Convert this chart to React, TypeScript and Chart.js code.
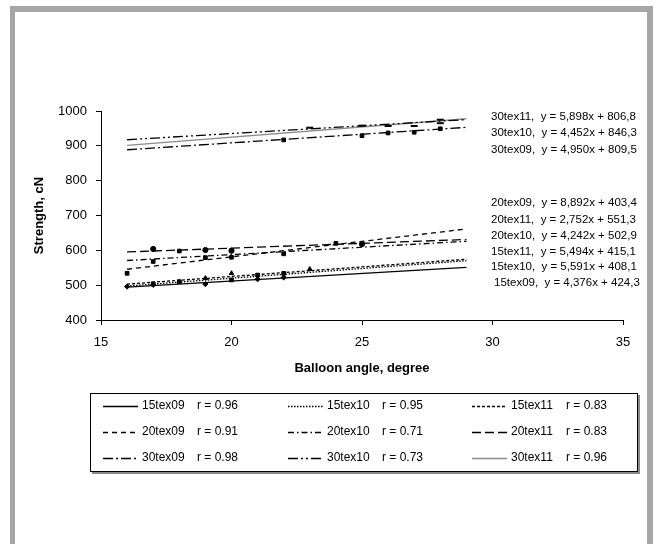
import React, { useEffect, useRef } from "react";
import { Chart, registerables } from "chart.js";

Chart.register(...registerables);

// ---------- data ----------
const seriesNames = ["15tex09", "15tex10", "15tex11", "20tex09", "20tex10", "20tex11", "30tex09", "30tex10", "30tex11"];
const rValues = ["0.96", "0.95", "0.83", "0.91", "0.71", "0.83", "0.98", "0.73", "0.96"];
const equations = [
  "y = 4,376x + 424,3",
  "y = 5,591x + 408,1",
  "y = 5,494x + 415,1",
  "y = 8,892x + 403,4",
  "y = 4,242x + 502,9",
  "y = 2,752x + 551,3",
  "y = 4,950x + 809,5",
  "y = 4,452x + 846,3",
  "y = 5,898x + 806,8",
];

// measured points (balloon angle, strength)
const x15tex09 = [16, 17, 19, 21, 22];
const y15tex09 = [496, 501, 503, 517, 522];
const x15tex10 = [17, 18, 20, 21, 22];
const y15tex10 = [504, 510, 515, 529, 534];
const x15tex11 = [19, 20, 23];
const y15tex11 = [520, 534, 546];
const x20tex09 = [16, 17, 20, 22];
const y20tex09 = [534, 568, 580, 590];
const x20tex10 = [18, 19, 24];
const y20tex10 = [598, 579, 620];
const x20tex11 = [17, 19, 20, 25];
const y20tex11 = [604, 601, 599, 618];
const x30tex09 = [22, 25, 26, 27, 28];
const y30tex09 = [917, 929, 937, 939, 949];
const x30tex10 = [23, 26, 28];
const y30tex10 = [952, 957, 965];
const x30tex11 = [25, 27, 28];
const y30tex11 = [958, 957, 975];

// trend line end points (x = 16 and x = 29)
const trendX = [16, 29];
const trend15tex09 = [494.3, 551.2];
const trend15tex10 = [497.6, 570.2];
const trend15tex11 = [503.0, 574.4];
const trend20tex09 = [545.7, 661.3];
const trend20tex10 = [570.8, 625.9];
const trend20tex11 = [595.3, 631.1];
const trend30tex09 = [888.7, 953.1];
const trend30tex10 = [917.5, 975.4];
const trend30tex11 = [901.2, 977.8];

const xTicks = [15, 20, 25, 30, 35];
const yTicks = [400, 500, 600, 700, 800, 900, 1000];

// ---------- styles ----------
const pointsX = [x15tex09, x15tex10, x15tex11, x20tex09, x20tex10, x20tex11, x30tex09, x30tex10, x30tex11];
const pointsY = [y15tex09, y15tex10, y15tex11, y20tex09, y20tex10, y20tex11, y30tex09, y30tex10, y30tex11];
const trends = [trend15tex09, trend15tex10, trend15tex11, trend20tex09, trend20tex10, trend20tex11, trend30tex09, trend30tex10, trend30tex11];
const lineColors = ["#000", "#000", "#000", "#000", "#000", "#000", "#000", "#000", "#8c8c8c"];
const lineDashes: number[][] = [
  [],
  [1.5, 1.5],
  [3, 2],
  [5, 4],
  [6, 3, 1.5, 3],
  [9, 4],
  [10, 3, 2, 3],
  [10, 3, 2, 3, 2, 3],
  [],
];
const markerStyles = ["rectRot", "rect", "triangle", "rect", "rect", "circle", "rect", "line", "line"];

const FONT = '"Liberation Sans", Arial, Helvetica, sans-serif';

const overlay = {
  id: "overlay",
  beforeDraw(chart: any) {
    const ctx = chart.ctx;
    ctx.save();
    ctx.fillStyle = "#fff";
    ctx.fillRect(0, 0, chart.width, chart.height);
    ctx.fillStyle = "#a6a6a6";
    ctx.fillRect(10, 6, 643, 6);
    ctx.fillRect(10, 6, 5, 540);
    ctx.fillRect(647, 6, 6, 540);
    ctx.restore();
  },
  afterDraw(chart: any) {
    const ctx = chart.ctx;
    ctx.save();
    // regression equations
    const order = [8, 7, 6, 3, 5, 4, 2, 1, 0];
    const annY = [117, 133, 150, 203, 220, 236, 252, 267, 283];
    const annX = [491, 491, 491, 491, 491, 491, 491, 491, 494];
    ctx.font = "11.5px " + FONT;
    ctx.fillStyle = "#000";
    ctx.textBaseline = "middle";
    ctx.textAlign = "left";
    order.forEach((idx, i) => {
      ctx.fillText(seriesNames[idx] + ",  " + equations[idx], annX[i], annY[i]);
    });

    // legend
    const L = 90, T = 393, R = 638, B = 472;
    ctx.fillStyle = "#8a8a8a";
    ctx.fillRect(L + 2, B, R - L, 2);
    ctx.fillRect(R, T + 2, 2, B - T);
    ctx.strokeStyle = "#000";
    ctx.lineWidth = 1;
    ctx.strokeRect(L + 0.5, T + 0.5, R - L - 1, B - T - 1);
    const colX = [103, 288, 472];
    const rowY = [406, 432, 458];
    ctx.font = "12px " + FONT;
    ctx.fillStyle = "#000";
    for (let i = 0; i < 9; i++) {
      const row = Math.floor(i / 3);
      const col = i % 3;
      const x = colX[col];
      const y = rowY[row];
      ctx.save();
      ctx.strokeStyle = lineColors[i];
      ctx.lineWidth = 1.3;
      ctx.setLineDash(lineDashes[i]);
      ctx.beginPath();
      ctx.moveTo(x, y + 0.5);
      ctx.lineTo(x + 35, y + 0.5);
      ctx.stroke();
      ctx.restore();
      ctx.fillText(seriesNames[i], x + 39, y);
      ctx.fillText("r = " + rValues[i], x + 94, y);
    }
    ctx.restore();
  },
};

export default function App() {
  const ref = useRef<HTMLCanvasElement | null>(null);
  useEffect(() => {
    if (!ref.current) return;
    const datasets: any[] = [];
    for (let i = 0; i < 9; i++) {
      datasets.push({
        label: seriesNames[i] + " points",
        data: pointsX[i].map((x, k) => ({ x, y: pointsY[i][k] })),
        showLine: false,
        pointStyle: markerStyles[i],
        pointRadius: markerStyles[i] === "line" ? 3.5 : 2.6,
        pointBorderWidth: markerStyles[i] === "line" ? 2 : 1,
        backgroundColor: "#000",
        borderColor: "#000",
      });
    }
    for (let i = 0; i < 9; i++) {
      datasets.push({
        label: seriesNames[i],
        data: trendX.map((x, k) => ({ x, y: trends[i][k] })),
        showLine: true,
        pointRadius: 0,
        borderWidth: 1.3,
        borderColor: lineColors[i],
        borderDash: lineDashes[i],
        backgroundColor: "transparent",
        fill: false,
      });
    }
    const chart = new Chart(ref.current, {
      type: "scatter",
      data: { datasets },
      options: {
        animation: false,
        responsive: false,
        maintainAspectRatio: false,
        devicePixelRatio: 1,
        layout: { padding: { left: 32, top: 111, right: 31, bottom: 168 } },
        plugins: { legend: { display: false }, tooltip: { enabled: false } },
        scales: {
          x: {
            type: "linear",
            min: xTicks[0],
            max: xTicks[xTicks.length - 1],
            afterBuildTicks: (s: any) => { s.ticks = xTicks.map((v) => ({ value: v })); },
            afterFit: (s: any) => { s.height = 56; },
            ticks: { color: "#000", padding: 10, font: { family: FONT, size: 13 }, callback: (v: any) => String(v), maxRotation: 0 },
            grid: { drawOnChartArea: false, drawTicks: true, tickLength: 5, color: "#000" },
            border: { display: true, color: "#000", width: 1 },
            title: { display: true, text: "Balloon angle, degree", color: "#000", padding: 0, font: { family: FONT, size: 13, weight: "bold" } },
          },
          y: {
            type: "linear",
            min: yTicks[0],
            max: yTicks[yTicks.length - 1],
            afterBuildTicks: (s: any) => { s.ticks = yTicks.map((v) => ({ value: v })); },
            afterFit: (s: any) => { s.width = 69; },
            ticks: { color: "#000", padding: 9, font: { family: FONT, size: 13 }, callback: (v: any) => String(v) },
            grid: { drawOnChartArea: false, drawTicks: true, tickLength: 5, color: "#000" },
            border: { display: true, color: "#000", width: 1 },
            title: { display: true, text: "Strength, cN", color: "#000", padding: 0, font: { family: FONT, size: 13, weight: "bold" } },
          },
        },
      },
      plugins: [overlay],
    });
    return () => chart.destroy();
  }, []);
  return (
    <div style={{ position: "fixed", left: 0, top: 0, width: 654, height: 544, background: "#fff" }}>
      <canvas ref={ref} width={654} height={544} style={{ display: "block", width: 654, height: 544 }} />
    </div>
  );
}
